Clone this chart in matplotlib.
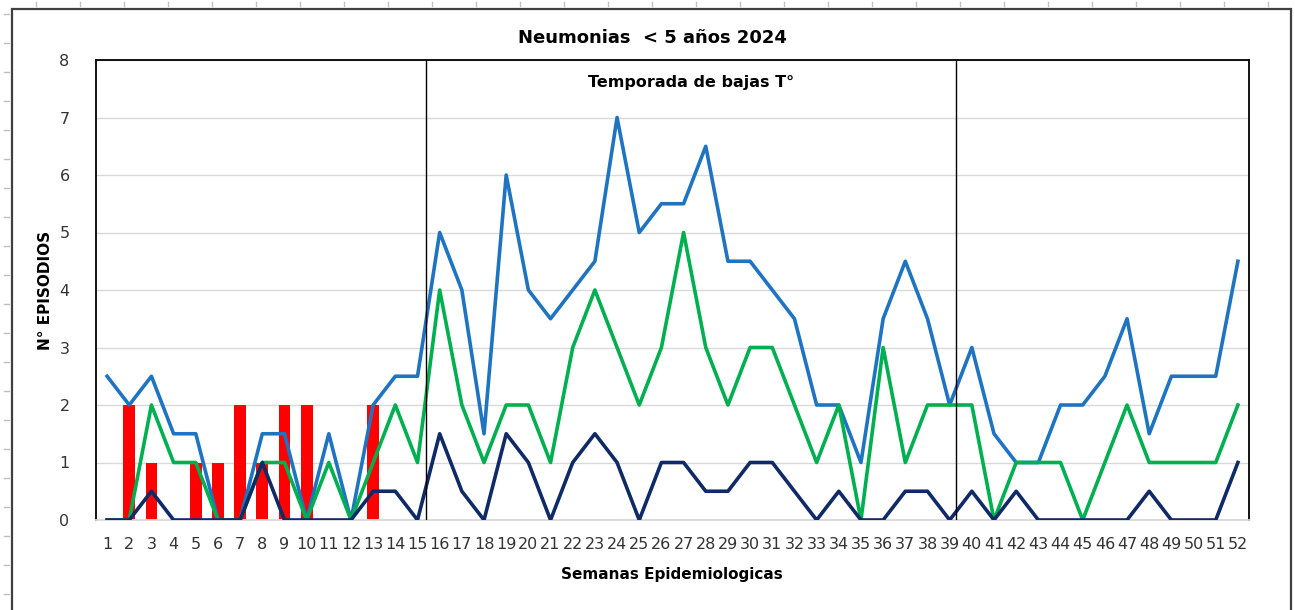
import numpy as np
import matplotlib.pyplot as plt
from matplotlib.patches import Rectangle
from matplotlib.lines import Line2D

plt.rcParams['font.family'] = ['DejaVu Sans']

# weeks 1..52
semanas = list(range(1, 53))

# blue series
serie_azul = [2.5, 2, 2.5, 1.5, 1.5, 0, 0, 1.5, 1.5, 0, 1.5, 0, 2, 2.5, 2.5,
              5, 4, 1.5, 6, 4, 3.5, 4, 4.5, 7, 5, 5.5, 5.5, 6.5, 4.5, 4.5,
              4, 3.5, 2, 2, 1, 3.5, 4.5, 3.5, 2, 3, 1.5, 1, 1, 2, 2, 2.5,
              3.5, 1.5, 2.5, 2.5, 2.5, 4.5]
# green series
serie_verde = [0, 0, 2, 1, 1, 0, 0, 1, 1, 0, 1, 0, 1, 2, 1,
               4, 2, 1, 2, 2, 1, 3, 4, 3, 2, 3, 5, 3, 2, 3,
               3, 2, 1, 2, 0, 3, 1, 2, 2, 2, 0, 1, 1, 1, 0, 1,
               2, 1, 1, 1, 1, 2]
# navy series
serie_marino = [0, 0, 0.5, 0, 0, 0, 0, 1, 0, 0, 0, 0, 0.5, 0.5, 0,
                1.5, 0.5, 0, 1.5, 1, 0, 1, 1.5, 1, 0, 1, 1, 0.5, 0.5, 1,
                1, 0.5, 0, 0.5, 0, 0, 0.5, 0.5, 0, 0.5, 0, 0.5, 0, 0, 0, 0,
                0, 0.5, 0, 0, 0, 1]
# red bars
barras_rojas = [0, 2, 1, 0, 1, 1, 2, 1, 2, 2, 0, 0, 2] + [0] * 39

# season limits (between weeks)
temporada_inicio = 15.4
temporada_fin = 39.3

fig = plt.figure(figsize=(12.95, 6.10), dpi=100)
ax = fig.add_axes([96 / 1295, 1 - 520 / 610, (1249 - 96) / 1295, (520 - 60) / 610])

ax.bar(semanas, barras_rojas, width=0.53, color='#FF0000', zorder=2)
ax.plot(semanas, serie_azul, color='#1F74C2', lw=2.6, zorder=3)
ax.plot(semanas, serie_verde, color='#00B050', lw=2.6, zorder=4)
ax.plot(semanas, serie_marino, color='#0F2A66', lw=2.6, zorder=5)

ax.axvline(temporada_inicio, color='black', lw=1, zorder=6)
ax.axvline(temporada_fin, color='black', lw=1, zorder=6)

ax.set_xlim(0.5, 52.5)
ax.set_ylim(0, 8)
ax.set_yticks(range(0, 9))
ax.set_xticks(semanas)
ax.set_xticklabels([str(s) for s in semanas], fontsize=11.5, color='#333333')
ax.tick_params(axis='y', labelsize=11.5, labelcolor='#333333', length=0, pad=19)
ax.tick_params(axis='x', length=0, pad=12)
ax.grid(axis='y', color='#D9D9D9', lw=1, zorder=0)
ax.set_axisbelow(True)
for sp in ax.spines.values():
    sp.set_color('black')
    sp.set_linewidth(1.3)
ax.spines['bottom'].set_color('#D9D9D9')

ax.text((temporada_inicio + temporada_fin) / 2, 7.6, 'Temporada de bajas T°',
        ha='center', va='center', fontsize=11.5, fontweight='bold')

fig.text(652 / 1295, 1 - 38 / 610, 'Neumonias  < 5 años 2024', ha='center', va='center',
         fontsize=13, fontweight='bold')
fig.text(672 / 1295, 1 - 575 / 610, 'Semanas Epidemiologicas', ha='center', va='center',
         fontsize=11, fontweight='bold')
fig.text(45 / 1295, 1 - 290 / 610, 'N° EPISODIOS', ha='center', va='center',
         fontsize=11, fontweight='bold', rotation=90)

# chart area border
fig.patches.append(Rectangle((12 / 1295, -0.05), (1291 - 12) / 1295, 1.05 - 9 / 610,
                             transform=fig.transFigure, fill=False,
                             edgecolor='#404040', lw=1.6))

# sheet ruler ticks
for xp in range(36, 1295, 44):
    fig.lines.append(Line2D([xp / 1295, xp / 1295], [1 - 2 / 610, 1 - 6 / 610],
                            transform=fig.transFigure, color='#BFBFBF', lw=1))
for yp in range(14, 610, 29):
    fig.lines.append(Line2D([4 / 1295, 9 / 1295], [1 - yp / 610, 1 - yp / 610],
                            transform=fig.transFigure, color='#BFBFBF', lw=1))

fig.savefig('out.png', dpi=100)
